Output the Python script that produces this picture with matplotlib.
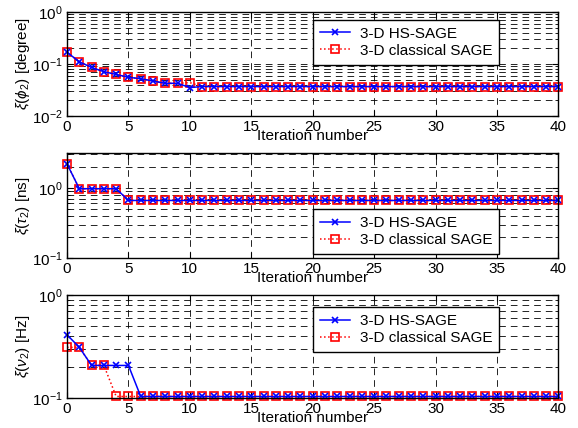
import numpy as np
import matplotlib
matplotlib.use('Agg')
from matplotlib import pyplot as plt
from matplotlib.ticker import LogLocator, NullFormatter

plt.rcParams['font.family'] = ['Liberation Sans', 'DejaVu Sans']
plt.rcParams['mathtext.fontset'] = 'custom'
plt.rcParams['mathtext.rm'] = 'Liberation Sans'
plt.rcParams['mathtext.it'] = 'Liberation Sans:italic'
plt.rcParams['font.size'] = 11

iters = np.arange(41)

# estimation errors
phi_hs = [0.168, 0.110, 0.0858, 0.071, 0.063, 0.0553, 0.0522, 0.047, 0.0425, 0.0425,
          0.0352, 0.0368, 0.0368, 0.0368, 0.0368, 0.0368, 0.0368, 0.0368, 0.0368, 0.0368,
          0.0368, 0.0368, 0.0368, 0.0368, 0.0368, 0.0368, 0.0368, 0.0368, 0.0368, 0.0368,
          0.0368, 0.0368, 0.0368, 0.0368, 0.0368, 0.0368, 0.0368, 0.0368, 0.0368, 0.0368,
          0.0368]
phi_cl = [0.168, 0.110, 0.0858, 0.071, 0.063, 0.0553, 0.0522, 0.047, 0.0425, 0.0425,
          0.0438, 0.0368, 0.0368, 0.0368, 0.0368, 0.0368, 0.0368, 0.0368, 0.0368, 0.0368,
          0.0368, 0.0368, 0.0368, 0.0368, 0.0368, 0.0368, 0.0368, 0.0368, 0.0368, 0.0368,
          0.0368, 0.0368, 0.0368, 0.0368, 0.0368, 0.0368, 0.0368, 0.0368, 0.0368, 0.0368,
          0.0368]

tau_hs = [2.18, 0.97, 0.97, 0.97, 0.97, 0.66, 0.66, 0.66, 0.66, 0.66,
          0.66, 0.66, 0.66, 0.66, 0.66, 0.66, 0.66, 0.66, 0.66, 0.66,
          0.66, 0.66, 0.66, 0.66, 0.66, 0.66, 0.66, 0.66, 0.66, 0.66,
          0.66, 0.66, 0.66, 0.66, 0.66, 0.66, 0.66, 0.66, 0.66, 0.66,
          0.66]
tau_cl = list(tau_hs)

nu_hs = [0.41, 0.31, 0.207, 0.207, 0.207, 0.207, 0.1035, 0.1035, 0.1035, 0.1035,
         0.1035, 0.1035, 0.1035, 0.1035, 0.1035, 0.1035, 0.1035, 0.1035, 0.1035, 0.1035,
         0.1035, 0.1035, 0.1035, 0.1035, 0.1035, 0.1035, 0.1035, 0.1035, 0.1035, 0.1035,
         0.1035, 0.1035, 0.1035, 0.1035, 0.1035, 0.1035, 0.1035, 0.1035, 0.1035, 0.1035,
         0.1035]
nu_cl = [0.31, 0.31, 0.207, 0.207, 0.1035, 0.1035, 0.1035, 0.1035, 0.1035, 0.1035,
         0.1035, 0.1035, 0.1035, 0.1035, 0.1035, 0.1035, 0.1035, 0.1035, 0.1035, 0.1035,
         0.1035, 0.1035, 0.1035, 0.1035, 0.1035, 0.1035, 0.1035, 0.1035, 0.1035, 0.1035,
         0.1035, 0.1035, 0.1035, 0.1035, 0.1035, 0.1035, 0.1035, 0.1035, 0.1035, 0.1035,
         0.1035]

ylabels = [r'$\xi(\phi_2)$ [degree]', r'$\xi(\tau_2)$ [ns]', r'$\xi(\nu_2)$ [Hz]']
ylims = [(0.01, 1), (0.1, 3.1), (0.1, 1)]
legend_anchor = [(0.50, 0.925), (0.50, 0.467), (0.50, 0.88)]

fig = plt.figure(figsize=(5.78, 4.28), dpi=100)
boxes = [[0.116, 0.729, 0.850, 0.243],
         [0.116, 0.397, 0.850, 0.245],
         [0.116, 0.070, 0.850, 0.241]]
series = [(phi_hs, phi_cl), (tau_hs, tau_cl), (nu_hs, nu_cl)]
gridstyle = (0, (8, 6))

for k in range(3):
    ax = fig.add_axes(boxes[k])
    hs, cl = series[k]
    ax.plot(iters, hs, color='blue', linestyle='-', linewidth=1.1, marker='x',
            markersize=5, markeredgewidth=1.2, label='3-D HS-SAGE', zorder=4,
            clip_on=False)
    ax.plot(iters, cl, color='red', linestyle=':', linewidth=1.1, marker='s',
            markersize=5.8, markerfacecolor='none', markeredgewidth=1.2,
            label='3-D classical SAGE', zorder=3, clip_on=False)
    ax.set_yscale('log')
    ax.set_xlim(0, 40)
    ax.set_ylim(*ylims[k])
    ax.set_xticks(np.arange(0, 41, 5))
    ax.yaxis.set_major_locator(LogLocator(base=10))
    ax.yaxis.set_minor_locator(LogLocator(base=10, subs=np.arange(2, 10)))
    ax.yaxis.set_minor_formatter(NullFormatter())
    ax.grid(True, which='major', axis='x', color='black', linestyle=gridstyle, linewidth=0.6)
    ax.grid(True, which='both', axis='y', color='black', linestyle=gridstyle, linewidth=0.6)
    ax.tick_params(which='both', direction='in', top=True, right=True, labelsize=11, pad=3)
    ax.tick_params(which='major', length=4)
    ax.tick_params(which='minor', length=2)
    for s in ax.spines.values():
        s.set_linewidth(1.0)
        s.set_zorder(5)
    ax.set_xlabel('Iteration number', labelpad=-4)
    ax.set_ylabel(ylabels[k], labelpad=0)
    leg = ax.legend(loc='upper left', bbox_to_anchor=legend_anchor[k], fancybox=False,
                    edgecolor='black', framealpha=1, handlelength=2.0, borderpad=0.45,
                    labelspacing=0.2, handletextpad=0.65, borderaxespad=0)
    leg.get_frame().set_linewidth(1.0)
    leg.set_zorder(10)

plt.savefig('out.png', dpi=100)
